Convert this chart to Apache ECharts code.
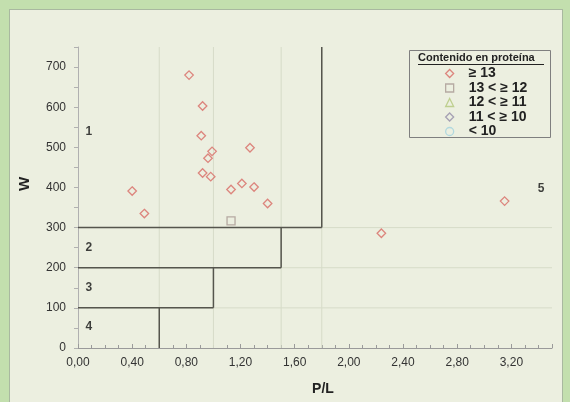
<!DOCTYPE html>
<html>
<head>
<meta charset="utf-8">
<script src="https://cdn.jsdelivr.net/npm/echarts@6/dist/echarts.min.js"></script>
<style>
  html, body { margin: 0; padding: 0; }
  #wrap { position: relative; width: 570px; height: 402px; background: #c3dfae; overflow: hidden; }
  #panel { position: absolute; left: 9px; top: 9px; width: 552px; height: 400px; background: #ecefe0; border: 1px solid #a9b8a0; }
  #chart { position: absolute; left: 0; top: 0; width: 570px; height: 402px; }
</style>
</head>
<body>
<div id="wrap"><div id="panel"></div><div id="chart"></div></div>
<script>
// ---- data ----
const legendNames = ['≥ 13', '13 < ≥ 12', '12 < ≥ 11', '11 < ≥ 10', '< 10'];
const pl13 = [0.82, 0.92, 0.91, 0.99, 0.96, 1.27, 0.92, 0.98, 1.13, 1.21, 1.30, 1.40, 0.40, 0.49, 2.24, 3.15];
const w13  = [680, 603, 529, 490, 473, 499, 436, 427, 395, 410, 401, 360, 391, 335, 286, 366];
const pl12 = [1.13];
const w12  = [317];
const pl11 = [];
const w11  = [];
const pl10 = [];
const w10  = [];
const plLow = [];
const wLow  = [];
// zone boundaries
const zoneX = [0.6, 1.0, 1.5, 1.8];
const zoneW = [100, 200, 300];
// zone labels
const zoneNames = ['1', '2', '3', '4', '5'];
const zoneLabelX = [0.08, 0.08, 0.08, 0.08, 3.42];
const zoneLabelW = [540, 250, 150, 52, 396];
const xTitle = 'P/L';
const yTitle = 'W';
const legendTitle = 'Contenido en proteína';
const X_MAX = 3.5, Y_MAX = 750;

function pairs(xs, ys) { return xs.map((x, i) => [x, ys[i]]); }

// dark step boundary segments
const stepSegs = [];
for (let i = 0; i < zoneX.length; i++) {
  const y0 = i === 0 ? 0 : zoneW[i - 1];
  const y1 = i < zoneW.length ? zoneW[i] : Y_MAX;
  stepSegs.push([[zoneX[i], y0], [zoneX[i], y1]]);
  if (i < zoneW.length) stepSegs.push([[0, zoneW[i]], [zoneX[i + 1], zoneW[i]]]);
}
// light full-length guide lines
const guideSegs = [];
zoneX.forEach(x => guideSegs.push([[x, 0], [x, Y_MAX]]));
zoneW.forEach(w => guideSegs.push([[0, w], [X_MAX, w]]));

function segSeries(segs, color, width, z) {
  const data = [];
  segs.forEach((s, i) => { if (i) data.push([null, null]); data.push(s[0], s[1]); });
  return { type: 'line', data: data, showSymbol: false, symbol: 'none', connectNulls: false,
           lineStyle: { color: color, width: width }, silent: true, z: z, animation: false };
}

const labelFont = { fontFamily: 'Liberation Sans, Arial, sans-serif' };
const seriesSymbols = ['diamond', 'rect', 'triangle', 'diamond', 'circle'];
const seriesColors = ['#d86a64', '#a99892', '#b3c77a', '#948ca8', '#a3d3df'];
const seriesData = [pairs(pl13, w13), pairs(pl12, w12), pairs(pl11, w11), pairs(pl10, w10), pairs(plLow, wLow)];

const hollow = c => ({ color: 'rgba(0,0,0,0)', borderColor: c, borderWidth: 1.3 });

const chart = echarts.init(document.getElementById('chart'), null, { renderer: 'canvas' });
chart.setOption({
  backgroundColor: 'transparent',
  animation: false,
  textStyle: labelFont,
  grid: { left: 78, right: 18, top: 47, bottom: 54 },
  xAxis: {
    type: 'value', min: 0, max: X_MAX, interval: 0.4,
    axisLine: { show: true, lineStyle: { color: '#9a9a9a', width: 1 } },
    axisTick: { show: true, inside: true, length: 4, lineStyle: { color: '#9a9a9a' } },
    minorTick: { show: true, splitNumber: 4, length: 3, lineStyle: { color: '#9a9a9a' } },
    splitLine: { show: false },
    axisLabel: { color: '#333', fontSize: 12, margin: 9, showMaxLabel: false,
                 formatter: v => v.toFixed(2).replace('.', ','), ...labelFont }
  },
  yAxis: {
    type: 'value', min: 0, max: Y_MAX, interval: 100,
    axisLine: { show: true, lineStyle: { color: '#b0b0b0', width: 1 } },
    axisTick: { show: true, inside: false, length: 4, lineStyle: { color: '#b0b0b0' } },
    minorTick: { show: true, splitNumber: 2, length: 4, lineStyle: { color: '#b0b0b0' } },
    splitLine: { show: false },
    axisLabel: { color: '#333', fontSize: 12, margin: 12, showMaxLabel: false, ...labelFont }
  },
  legend: {
    orient: 'vertical', left: 445, top: 66.5, padding: 0,
    itemWidth: 8, itemHeight: 8, itemGap: 0.5,
    data: legendNames.map((n, i) => ({ name: n, icon: seriesSymbols[i], itemStyle: hollow(seriesColors[i]) })),
    textStyle: { color: '#222', fontSize: 14, fontWeight: 'bold', lineHeight: 13,
                 padding: [0, 0, 0, 10], ...labelFont }
  },
  graphic: [
    { type: 'rect', left: 409, top: 50, z: -1,
      shape: { width: 141, height: 87 },
      style: { fill: '#ecefe0', stroke: '#7f7f7f', lineWidth: 1 } },
    { type: 'text', left: 418, top: 52,
      style: { text: legendTitle, font: 'bold 11px Liberation Sans, Arial, sans-serif', fill: '#222' } },
    { type: 'line', shape: { x1: 418, y1: 64.5, x2: 544, y2: 64.5 },
      style: { stroke: '#222', lineWidth: 1 } },
    { type: 'text', x: 323, y: 389,
      style: { text: xTitle, font: 'bold 14px Liberation Sans, Arial, sans-serif', fill: '#222',
               textAlign: 'center', textVerticalAlign: 'middle' } },
    { type: 'text', x: 25, y: 184, rotation: Math.PI / 2,
      style: { text: yTitle, font: 'bold 15px Liberation Sans, Arial, sans-serif', fill: '#222',
               textAlign: 'center', textVerticalAlign: 'middle' } }
  ],
  series: [
    segSeries(guideSegs, '#d6dbc8', 1, 1),
    segSeries(stepSegs, '#55554d', 1.5, 2),
    { type: 'scatter', data: zoneNames.map((n, i) => [zoneLabelX[i], zoneLabelW[i], n]),
      symbolSize: 0, silent: true, z: 3,
      label: { show: true, position: 'inside', formatter: p => p.data[2],
               color: '#111', fontSize: 12, fontWeight: 'bold', ...labelFont } }
  ].concat(legendNames.map((n, i) => ({
    name: n, type: 'scatter', data: seriesData[i], symbol: seriesSymbols[i],
    symbolSize: i === 1 ? 8 : 8.5, z: 5, itemStyle: hollow(seriesColors[i])
  })))
});
</script>
</body>
</html>
